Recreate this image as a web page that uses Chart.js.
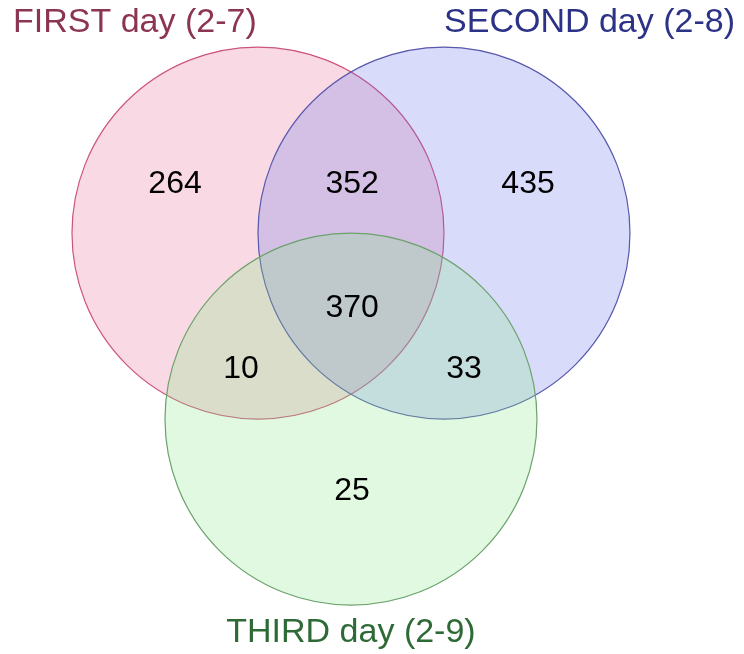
<!DOCTYPE html>
<html>
<head>
<meta charset="utf-8">
<script src="https://cdn.jsdelivr.net/npm/chart.js@4.4.0/dist/chart.umd.min.js"></script>
<style>
  html, body { margin: 0; padding: 0; background: #fff; }
  #wrap { width: 744px; height: 654px; }
</style>
</head>
<body>
<div id="wrap"><canvas id="venn"></canvas></div>
<script>
// sets and their circles (centres in units of one circle radius)
const setNames = ['FIRST day (2-7)', 'SECOND day (2-8)', 'THIRD day (2-9)'];
const centreX = [0, 1, 0.5];
const centreY = [0, 0, -1];

// region counts and where each sits (same units, text baseline)
const regionCounts = [264, 352, 435, 370, 10, 33, 25];
const regionX = [-0.446, 0.506, 1.452, 0.506, -0.091, 1.108, 0.506];
const regionY = [0.215, 0.215, 0.215, -0.452, -0.780, -0.780, -1.435];

const fillColors = ['rgba(231, 107, 147, 0.25)', 'rgba(103, 111, 235, 0.25)', 'rgba(131, 231, 131, 0.25)'];
const strokeColors = ['rgb(205, 85, 122)', 'rgb(88, 88, 172)', 'rgb(108, 162, 108)'];
const titleColors = ['#8b3553', '#2c3286', '#2e6a36'];

const FONT = 'Arial, "Liberation Sans", Helvetica, sans-serif';

// one radius unit in pixels, taken from the x scale
function unitPx(chart) {
  const sx = chart.scales.x;
  return Math.abs(sx.getPixelForValue(1) - sx.getPixelForValue(0));
}

const vennLabels = {
  id: 'vennLabels',
  afterDatasetsDraw(chart) {
    const { ctx, chartArea, scales } = chart;
    ctx.save();

    // counts
    ctx.fillStyle = '#000';
    ctx.font = '32px ' + FONT;
    ctx.textAlign = 'center';
    ctx.textBaseline = 'alphabetic';
    regionCounts.forEach((n, i) => {
      ctx.fillText(String(n), scales.x.getPixelForValue(regionX[i]), scales.y.getPixelForValue(regionY[i]));
    });

    // set titles
    ctx.font = '34px ' + FONT;
    ctx.fillStyle = titleColors[0];
    ctx.textAlign = 'left';
    ctx.fillText(setNames[0], chartArea.left + 13, chartArea.top + 32);

    ctx.fillStyle = titleColors[1];
    ctx.textAlign = 'right';
    ctx.fillText(setNames[1], chartArea.right - 9, chartArea.top + 32);

    ctx.fillStyle = titleColors[2];
    ctx.textAlign = 'center';
    ctx.fillText(setNames[2], scales.x.getPixelForValue(centreX[2]), chartArea.bottom - 12);

    ctx.restore();
  }
};

const datasets = setNames.map((name, i) => ({
  label: name,
  data: [{ x: centreX[i], y: centreY[i] }],
  backgroundColor: fillColors[i],
  borderColor: strokeColors[i],
  borderWidth: 1.2,
  pointRadius: c => unitPx(c.chart),
  pointHoverRadius: c => unitPx(c.chart),
  order: 3 - i,
  clip: false
}));

new Chart(document.getElementById('venn'), {
  type: 'scatter',
  data: { datasets },
  options: {
    responsive: true,
    maintainAspectRatio: false,
    animation: false,
    events: [],
    layout: { padding: 0 },
    plugins: {
      legend: { display: false },
      tooltip: { enabled: false }
    },
    scales: {
      x: { type: 'linear', display: false, min: -1.387, max: 2.613 },
      y: { type: 'linear', display: false, min: -2.263, max: 1.253 }
    }
  },
  plugins: [vennLabels]
});
</script>
</body>
</html>
